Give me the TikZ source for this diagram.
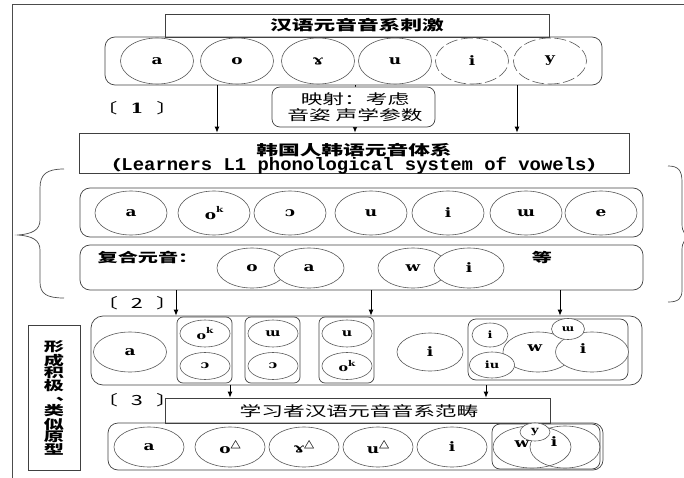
\documentclass[tikz,border=0pt]{standalone}
\usepackage{fontspec}
\usepackage{graphicx}
\setmainfont{DejaVu Serif}
\newfontfamily\cjk[FakeStretch=1.55]{Noto Sans CJK SC}
\newfontfamily\lat[FakeStretch=1.3]{DejaVu Serif}
\newfontfamily\eng[FakeStretch=1.05]{Liberation Mono}
\newfontfamily\djs[FakeStretch=1.2]{DejaVu Sans}
\usetikzlibrary{shapes.geometric,arrows.meta}
\newcommand\tri{\raisebox{0.4em}{\djs\fontsize{11}{11}\selectfont △}}
\newcommand\supk{\raisebox{0.5em}{\lat\bfseries\fontsize{8}{8}\selectfont k}}
\begin{document}
\begin{tikzpicture}[x=1pt,y=-1pt,
  ln/.style={draw=black!75, line width=0.7pt},
  ov/.style={ellipse, draw=black!65, fill=white, line width=0.6pt, inner sep=0pt, font=\lat\bfseries\fontsize{13}{13}\selectfont},
  ovd/.style={ov, dash pattern=on 12pt off 3.5pt},
  ovn/.style={ov, fill=none},
  rbox/.style={ln, rounded corners=10pt, inner sep=0pt},
  sbox/.style={ln, fill=white, inner sep=0pt},
  arr/.style={-{Latex[length=6pt,width=5pt]}, line width=0.9pt, black},
  cj/.style={inner sep=0pt, font=\cjk\fontsize{14}{14}\selectfont},
  cjb/.style={inner sep=0pt, font=\cjk\bfseries\fontsize{14}{14}\selectfont},
  ltx/.style={inner sep=0pt, font=\lat\bfseries\fontsize{13}{13}\selectfont},
]
\useasboundingbox (0,0) rectangle (684,478);
% outer frame
\coordinate (fA) at (12,478); \coordinate (fB) at (12,4); \coordinate (fC) at (684,4);
\draw[black!70, line width=0.8pt] (fA) -- (fB) -- (fC);

% ---- stage 0
\node[sbox, minimum width=384pt, minimum height=23pt] (t1) at (357,25.5) {};
\node[cjb] (t1t) at (357,25.5) {汉语元音音系刺激};
\node[rbox, minimum width=497pt, minimum height=48pt] (r1) at (353.5,61) {};
\node[ov, minimum width=73pt, minimum height=46pt] (r1a) at (157,61) {a};
\node[ov, minimum width=73pt, minimum height=46pt] (r1b) at (237,61) {o};
\node[ov, minimum width=73pt, minimum height=46pt] (r1c) at (318,61) {ɤ};
\node[ov, minimum width=73pt, minimum height=46pt] (r1d) at (395,61) {u};
\node[ovd, minimum width=73pt, minimum height=46pt] (r1e) at (472,61) {i};
\node[ovd, minimum width=73pt, minimum height=46pt] (r1f) at (550,61) {y};

% ---- L1 system box
\node[ln, inner sep=0pt, minimum width=550pt, minimum height=40pt] (hk) at (354,153) {};
\node[cjb] (hk1) at (354,150) {韩国人韩语元音体系};
\node[inner sep=0pt] (hk2) at (354,166) {{\cjk\bfseries\fontsize{14}{14}\selectfont （}{\eng\bfseries\fontsize{18}{18}\selectfont Learners L1 phonological system of vowels}{\cjk\bfseries\fontsize{14}{14}\selectfont ）}};

\coordinate (x1a) at (217,0); \coordinate (x1b) at (355,0); \coordinate (x1c) at (517,0);
\draw[arr] (r1.south -| x1a) -- (hk.north -| x1a);
\draw[arr] (r1.south -| x1b) -- (hk.north -| x1b);
\draw[arr] (r1.south -| x1c) -- (hk.north -| x1c);
\node[rbox, rounded corners=8pt, fill=white, minimum width=163pt, minimum height=40pt] (map) at (353.5,107) {};
\node[cj, align=center, font=\cjk\fontsize{14}{16.5}\selectfont] (mapt) at (355,107) {映射：考虑\\音姿 声学参数};
\node[cj] (lab1) at (137,108) {〔\hspace{13pt}{\lat\bfseries 1}\hspace{13pt}〕};

% ---- braces
\draw[black!70, line width=0.7pt] (64,169) .. controls (47,169) and (40,174) .. (40,188) -- (40,220) .. controls (40,230) and (32,234) .. (18,235) .. controls (32,236) and (40,240) .. (40,250) -- (40,282) .. controls (40,294) and (47,298) .. (64,298);
\begin{scope}
\clip (600,150) rectangle (684,320);
\draw[black!70, line width=0.7pt] (668,166) .. controls (678,166) and (682,170) .. (682,182) -- (682,224) .. controls (682,232) and (685,236) .. (692,237) .. controls (685,238) and (682,242) .. (682,250) -- (682,290) .. controls (682,299) and (678,302) .. (668,302);
\end{scope}

% ---- row 2
\node[rbox, minimum width=563pt, minimum height=49pt] (r2) at (361.5,212.5) {};
\node[ov, minimum width=72pt, minimum height=44pt] (r2a) at (131,213) {a};
\node[ov, minimum width=72pt, minimum height=44pt] (r2b) at (214,213) {o\supk};
\node[ov, minimum width=72pt, minimum height=44pt] (r2c) at (290,213) {ɔ};
\node[ov, minimum width=72pt, minimum height=44pt] (r2d) at (371,213) {u};
\node[ov, minimum width=72pt, minimum height=44pt] (r2e) at (448,213) {i};
\node[ov, minimum width=72pt, minimum height=44pt] (r2f) at (526,213) {ɯ};
\node[ov, minimum width=72pt, minimum height=44pt] (r2g) at (601,213) {e};

% ---- row 3
\node[rbox, minimum width=563pt, minimum height=45pt] (r3) at (361.5,267.5) {};
\node[cjb, font=\cjk\bfseries\fontsize{13}{13}\selectfont] (fh) at (148,257) {复合元音：};
\node[ov, minimum width=70pt, minimum height=40pt] (r3a) at (252,268) {o};
\node[ov, minimum width=70pt, minimum height=40pt] (r3b) at (309,268) {a};
\node[ov, minimum width=70pt, minimum height=40pt] (r3c) at (413,268) {w};
\node[ov, minimum width=70pt, minimum height=40pt] (r3d) at (469,268) {i};
\node[cjb, font=\cjk\bfseries\fontsize{13}{13}\selectfont] (deng) at (542,257) {等};

% ---- row 4
\node[cj] (lab2) at (137,303) {〔\hspace{13pt}2\hspace{13pt}〕};
\node[rbox, rounded corners=12pt, minimum width=551pt, minimum height=69pt] (r4) at (366.5,350.5) {};
\coordinate (x2a) at (176,0); \coordinate (x2b) at (371,0); \coordinate (x2c) at (560,0);
\draw[arr] (r3.south -| x2a) -- (r4.north -| x2a);
\draw[arr] (r3.south -| x2b) -- (r4.north -| x2b);
\draw[arr] (r3.south -| x2c) -- (r4.north -| x2c);
\node[ov, minimum width=73pt, minimum height=40pt] (r4a) at (130,352) {a};
\node[rbox, rounded corners=6pt, minimum width=55pt, minimum height=66pt] (g1) at (204.5,350) {};
\node[ov, minimum width=50pt, minimum height=27pt, font=\lat\bfseries\fontsize{11}{11}\selectfont] (g1a) at (205,333.5) {o\supk};
\node[ov, minimum width=50pt, minimum height=27pt, font=\lat\bfseries\fontsize{11}{11}\selectfont] (g1b) at (205,366) {ɔ};
\node[rbox, rounded corners=6pt, minimum width=55pt, minimum height=66pt] (g2) at (272.5,350) {};
\node[ov, minimum width=50pt, minimum height=27pt, font=\lat\bfseries\fontsize{11}{11}\selectfont] (g2a) at (273,333.5) {ɯ};
\node[ov, minimum width=50pt, minimum height=27pt, font=\lat\bfseries\fontsize{11}{11}\selectfont] (g2b) at (273,366) {ɔ};
\node[rbox, rounded corners=6pt, minimum width=55pt, minimum height=66pt] (g3) at (346.5,350) {};
\node[ov, minimum width=50pt, minimum height=27pt, font=\lat\bfseries\fontsize{11}{11}\selectfont] (g3a) at (347,333.5) {u};
\node[ov, minimum width=50pt, minimum height=27pt, font=\lat\bfseries\fontsize{11}{11}\selectfont] (g3b) at (347,366) {o\supk};
\node[ov, minimum width=66pt, minimum height=38pt] (r4i) at (430,352) {i};
\node[rbox, rounded corners=8pt, minimum width=160pt, minimum height=61pt] (g4) at (548,349.5) {};
\node[ov, minimum width=70pt, minimum height=40pt] (g4w) at (538,352) {};
\node[ov, minimum width=36pt, minimum height=24pt, font=\lat\bfseries\fontsize{10}{10}\selectfont] (g4i) at (490,335) {i};
\node[ov, minimum width=45pt, minimum height=26pt, font=\lat\bfseries\fontsize{10}{10}\selectfont] (g4iu) at (492,365) {iu};
\node[ov, minimum width=73pt, minimum height=40pt] (g4I) at (592,352) {};
\node[ov, minimum width=33pt, minimum height=21pt, font=\lat\bfseries\fontsize{9}{9}\selectfont] (g4m) at (568,329) {ɯ};
\node[ltx] (g4wt) at (535,348) {w};
\node[ltx] (g4It) at (583,349) {i};

% ---- row 5
\node[cj] (lab3) at (137,400) {〔\hspace{13pt}3\hspace{13pt}〕};
\node[sbox, minimum width=385pt, minimum height=25pt] (t5) at (357.5,410.5) {};
\node[cj] (t5t) at (359,411) {学习者汉语元音音系范畴};
\coordinate (x3a) at (230,0); \coordinate (x3b) at (486,0);
\draw[arr] (r4.south -| x3a) -- (t5.north -| x3a);
\draw[arr] (r4.south -| x3b) -- (t5.north -| x3b);
\node[rbox, minimum width=495pt, minimum height=47pt] (r5) at (355.5,446.5) {};
\node[ov, minimum width=70pt, minimum height=40pt] (r5a) at (149,447) {a};
\node[ov, minimum width=70pt, minimum height=40pt] (r5b) at (230,447) {o\tri};
\node[ov, minimum width=70pt, minimum height=40pt] (r5c) at (304,447) {ɤ\tri};
\node[ov, minimum width=70pt, minimum height=40pt] (r5d) at (378,447) {u\tri};
\node[ov, minimum width=70pt, minimum height=40pt] (r5e) at (452,447) {i};
\node[rbox, rounded corners=8pt, minimum width=108pt, minimum height=45pt] (g5) at (546,446.5) {};
\node[ovn, minimum width=78pt, minimum height=42pt] (g5w) at (532,447) {};
\node[ovn, minimum width=70pt, minimum height=42pt] (g5i) at (565,447) {};
\node[ov, minimum width=30pt, minimum height=18pt, font=\lat\bfseries\fontsize{10}{10}\selectfont] (g5y) at (535,432) {y};
\node[ltx] (g5wt) at (522,444) {w};
\node[ltx] (g5it) at (554,442) {i};

% ---- vertical box
\node[ln, inner sep=0pt, minimum width=52pt, minimum height=145pt] (vb) at (54,397.5) {};
\node[inner sep=0pt, align=center, font=\cjk\bfseries\fontsize{13}{12.5}\selectfont] (vt1) at (54,366) {形\\成\\积\\极};
\node[inner sep=0pt, font=\cjk\bfseries\fontsize{13}{13}\selectfont] (vtc) at (66,399.5) {、};
\node[inner sep=0pt, align=center, font=\cjk\bfseries\fontsize{13}{12}\selectfont] (vt2) at (54,430) {类\\似\\原\\型};
\end{tikzpicture}
\end{document}
